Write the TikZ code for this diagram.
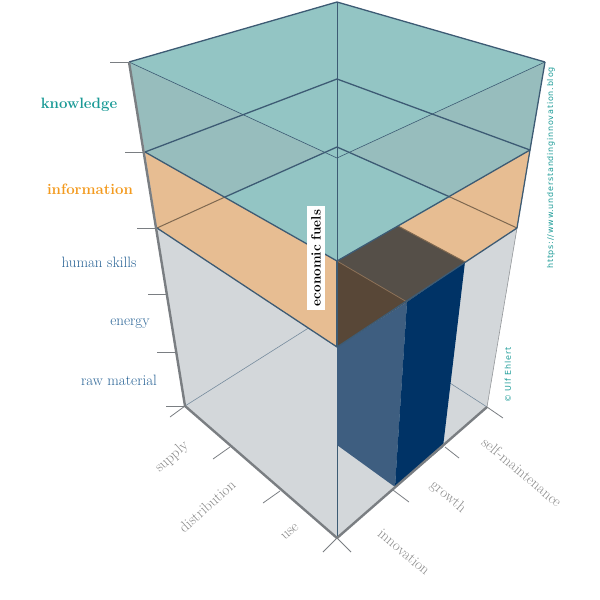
\documentclass[tikz,border=0pt]{standalone}
\usepackage{fontspec}
\newfontfamily\urlfont{DejaVu Sans}[LetterSpace=10]
\begin{document}
\begin{tikzpicture}[x=1pt,y=-1pt,
  grid/.style={draw=lineblue,line width=1.3pt,line join=round},
  thin/.style={draw=lineblue,line width=0.6pt},
  frame/.style={draw=framegrey,line width=2.4pt,line join=round},
  tick/.style={draw=framegrey,line width=0.8pt},
  lab/.style={font=\fontsize{15}{17}\selectfont},
  axl/.style={font=\fontsize{15}{17}\selectfont,text=axgrey}]
\definecolor{lineblue}{HTML}{3D5B74}
\definecolor{framegrey}{HTML}{7A7E82}
\definecolor{axgrey}{HTML}{8A8A8A}
\definecolor{cgrey}{HTML}{D3D7DA}
\definecolor{corange}{HTML}{E7BD92}
\definecolor{cteal}{HTML}{93C5C4}
\definecolor{ctealside}{HTML}{97BDBD}
\definecolor{cbrowntop}{HTML}{554F48}
\definecolor{cbrown}{HTML}{584737}
\definecolor{cblue}{HTML}{3E5E80}
\definecolor{cnavy}{HTML}{003366}
\definecolor{kteal}{HTML}{1A9A96}
\definecolor{iorange}{HTML}{F39A1E}
\definecolor{fblue}{HTML}{2A6496}
\useasboundingbox (0,0) rectangle (600,600);
% coordinates
\coordinate (Tb) at (337,2); \coordinate (Tl) at (129,62); \coordinate (Tr) at (545,62); \coordinate (Tf) at (337,158);
\coordinate (Kb) at (337,79); \coordinate (Kl) at (145,152); \coordinate (Kr) at (530,150); \coordinate (Kf) at (337,261);
\coordinate (Ib) at (337,147); \coordinate (Il) at (157,228); \coordinate (Ir) at (517,228); \coordinate (If) at (337,347);
\coordinate (Bb) at (337,310); \coordinate (Bl) at (185,406); \coordinate (Br) at (487,407); \coordinate (Bf) at (337,538);
\coordinate (Ld) at (225,197); \coordinate (Rd) at (450,197);
% grey body
\fill[cgrey] (Tl)--(Tb)--(Tr)--(Br)--(Bf)--(Bl)--cycle;
\draw[thin,draw=lineblue!70] (Bl)--(Bb)--(Br);
% orange slab
\fill[corange] (Kl)--(Kf)--(Kr)--(Ir)--(If)--(Il)--cycle;
% teal slab
\fill[ctealside] (Tl)--(Tb)--(Tr)--(Kr)--(Kf)--(Kl)--cycle;
\fill[cteal] (Tl)--(Tb)--(Tr)--(Tf)--cycle;
\fill[cteal] (Ld)--(Ib)--(Rd)--(Kf)--cycle;
% brown
\fill[cbrowntop] (Kf)--(398,226)--(465,262)--(407,302)--cycle;
\fill[cbrown] (Kf)--(407,302)--(If)--cycle;
\draw[draw=corange!60!black,line width=0.8pt] (Kf)--(407,302);
% bars
\fill[cblue] (If)--(407,302)--(395,487)--(337,445)--cycle;
\fill[cnavy] (407,302)--(465,262)--(443,447)--(395,487)--cycle;
% hidden lines through orange
\draw[draw=corange!55!black,line width=1pt] (Il)--(Ld) (Rd)--(Ir);
\draw[draw=corange!55!black,line width=1pt] (398,226)--(465,262);
% lines
\draw[thin] (Tl)--(Tf)--(Tr);
\draw[thin] (Tb)--(Kf);
\draw[thin] (337,445)--(Bf);
\draw[thin,draw=framegrey!80] (Ir)--(Br);
\draw[grid] (Tl)--(Tb)--(Tr);
\draw[grid] (Kl)--(Kb)--(Kr);
\draw[grid] (Kl)--(Kf)--(Kr);
\draw[grid] (Ld)--(Ib)--(Rd);
\draw[grid] (Il)--(If)--(Ir);
\draw[grid] (Tr)--(Kr)--(Ir);
\draw[grid] (Kf)--(If);
\draw[frame] (Tl)--(Bl)--(Bf)--(Br);
% left ticks
\foreach \y/\x in {62/129,152/144,228/156,294/167,352/176,406/185}
  \draw[tick] (\x-19,\y)--(\x,\y);
% bottom ticks
\draw[tick] (170,417)--(Bl);
\draw[tick] (213,459)--(230,447);
\draw[tick] (263,503)--(280,491);
\draw[tick] (323,552)--(Bf)--(351,552);
\draw[tick] (393,490)--(409,502);
\draw[tick] (445,447)--(459,458);
\draw[tick] (Br)--(503,418);
% left labels
\node[lab,text=kteal,font=\fontsize{15}{17}\selectfont\bfseries] (kn) at (79,105) {knowledge};
\node[lab,text=iorange,font=\fontsize{15}{17}\selectfont\bfseries] (inf) at (90,189) {information};
\node[lab,text=fblue] (hs) at (99,262) {human skills};
\node[lab,text=fblue] (en) at (130,324) {energy};
\node[lab,text=fblue] (rm) at (119,380) {raw material};
% axis labels
\node[axl,rotate=42] (su) at (172,457) {supply};
\node[axl,rotate=42] (di) at (207,506) {distribution};
\node[axl,rotate=42] (us) at (290,532) {use};
\node[axl,rotate=-40] (in) at (404,552) {innovation};
\node[axl,rotate=-40] (gr) at (448,497) {growth};
\node[axl,rotate=-40] (sm) at (522,472) {self-maintenance};
% economic fuels
\node[fill=white,rotate=90,inner sep=4pt,font=\fontsize{13.5}{15}\selectfont\bfseries] (ef) at (316,258) {economic fuels};
% credits
\node[rotate=90,text=kteal,font=\urlfont\fontsize{8}{9}\selectfont] (url) at (551,168) {https://www.understandinginnovation.blog};
\node[rotate=90,text=kteal,font=\urlfont\fontsize{8}{9}\selectfont] (cp) at (508,375) {© Ulf Ehlert};
\end{tikzpicture}
\end{document}
